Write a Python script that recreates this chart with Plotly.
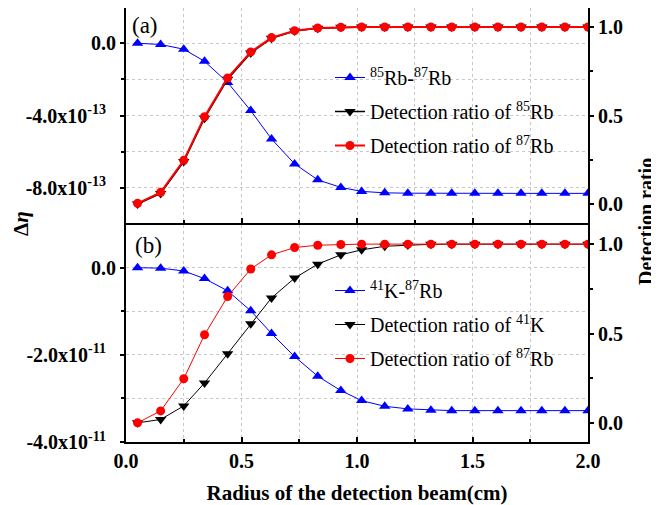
import plotly.graph_objects as go

# ---------------- data ----------------
radius = [0.05, 0.15, 0.25, 0.34, 0.44, 0.54, 0.63, 0.73, 0.83, 0.93, 1.02,
          1.12, 1.22, 1.32, 1.41, 1.51, 1.61, 1.71, 1.80, 1.90, 2.00]

# panel (a)
deta_85_87 = [0.0, -0.07e-13, -0.33e-13, -1.0e-13, -2.17e-13, -3.73e-13, -5.3e-13,
              -6.68e-13, -7.56e-13, -7.98e-13, -8.2e-13, -8.28e-13, -8.30e-13,
              -8.31e-13, -8.31e-13, -8.31e-13, -8.31e-13, -8.31e-13, -8.31e-13,
              -8.31e-13, -8.31e-13]
ratio_85 = [0.0, 0.06, 0.24, 0.485, 0.705, 0.853, 0.936, 0.977, 0.993, 0.998, 1.0,
            1.0, 1.0, 1.0, 1.0, 1.0, 1.0, 1.0, 1.0, 1.0, 1.0]
ratio_87a = [0.004, 0.066, 0.247, 0.493, 0.712, 0.859, 0.94, 0.979, 0.994, 0.998, 1.0,
             1.0, 1.0, 1.0, 1.0, 1.0, 1.0, 1.0, 1.0, 1.0, 1.0]

# panel (b)
deta_41_87 = [0.0, -0.01e-11, -0.075e-11, -0.25e-11, -0.53e-11, -0.99e-11, -1.51e-11,
              -2.04e-11, -2.49e-11, -2.82e-11, -3.05e-11, -3.18e-11, -3.24e-11,
              -3.27e-11, -3.28e-11, -3.28e-11, -3.28e-11, -3.28e-11, -3.28e-11,
              -3.28e-11, -3.28e-11]
ratio_41 = [0.0, 0.019, 0.095, 0.223, 0.387, 0.554, 0.699, 0.81, 0.888, 0.94, 0.968,
            0.988, 0.995, 0.999, 1.0, 1.0, 1.0, 1.0, 1.0, 1.0, 1.0]
ratio_87b = [0.0, 0.067, 0.247, 0.493, 0.707, 0.861, 0.94, 0.981, 0.994, 0.998, 1.0,
             1.0, 1.0, 1.0, 1.0, 1.0, 1.0, 1.0, 1.0, 1.0, 1.0]

x_ticks = [0.0, 0.5, 1.0, 1.5, 2.0]
x_ticktext = ["0.0", "0.5", "1.0", "1.5", "2.0"]
ya_ticks = [0.0, -4.0e-13, -8.0e-13]
ya_ticktext = ["0.0", "-4.0x10<sup>-13</sup>\u00a0\u00a0", "-8.0x10<sup>-13</sup>\u00a0\u00a0"]
yb_ticks = [0.0, -2.0e-11, -4.0e-11]
yb_ticktext = ["0.0", "-2.0x10<sup>-11</sup>\u00a0\u00a0", "-4.0x10<sup>-11</sup>\u00a0\u00a0"]
r_ticks = [0.0, 0.5, 1.0]
r_ticktext = ["0.0", "0.5", "1.0"]

FONT = "Liberation Serif, Times New Roman, Times, DejaVu Serif, serif"
BLUE, BLACK, RED = "#0000FF", "#000000", "#FF0000"

fig = go.Figure()

# panel (a) traces
fig.add_trace(go.Scatter(x=radius, y=deta_85_87, xaxis="x2", yaxis="y",
                         mode="lines+markers", name="<sup>85</sup>Rb-<sup>87</sup>Rb",
                         line=dict(color=BLUE, width=1),
                         marker=dict(symbol="triangle-up", size=10, color=BLUE),
                         legend="legend", legendgroup="a1"))
fig.add_trace(go.Scatter(x=radius, y=ratio_85, xaxis="x2", yaxis="y2",
                         mode="lines+markers", name="Detection ratio of <sup>85</sup>Rb",
                         line=dict(color=BLACK, width=1.5),
                         marker=dict(symbol="triangle-down", size=10, color=BLACK),
                         legend="legend", legendgroup="a2"))
fig.add_trace(go.Scatter(x=radius, y=ratio_87a, xaxis="x2", yaxis="y2",
                         mode="lines+markers", name="Detection ratio of <sup>87</sup>Rb",
                         line=dict(color=RED, width=2),
                         marker=dict(symbol="circle", size=9, color=RED),
                         legend="legend", legendgroup="a3"))

# panel (b) traces
fig.add_trace(go.Scatter(x=radius, y=deta_41_87, xaxis="x", yaxis="y3",
                         mode="lines+markers", name="<sup>41</sup>K-<sup>87</sup>Rb",
                         line=dict(color=BLUE, width=1),
                         marker=dict(symbol="triangle-up", size=10, color=BLUE),
                         legend="legend2", legendgroup="b1"))
fig.add_trace(go.Scatter(x=radius, y=ratio_41, xaxis="x", yaxis="y4",
                         mode="lines+markers", name="Detection ratio of <sup>41</sup>K",
                         line=dict(color=BLACK, width=1),
                         marker=dict(symbol="triangle-down", size=10, color=BLACK),
                         legend="legend2", legendgroup="b2"))
fig.add_trace(go.Scatter(x=radius, y=ratio_87b, xaxis="x", yaxis="y4",
                         mode="lines+markers", name="Detection ratio of <sup>87</sup>Rb",
                         line=dict(color=RED, width=1),
                         marker=dict(symbol="circle", size=9, color=RED),
                         legend="legend2", legendgroup="b3"))

tickfont = dict(family=FONT, size=20, color="black", weight="bold")
grid = dict(showgrid=True, gridcolor="#c8c8c8", griddash="dot", gridwidth=1)

xcommon = dict(range=[0, 2.0], tickmode="array", tickvals=x_ticks, ticktext=x_ticktext,
               ticks="inside", ticklen=5, tickwidth=1.5, tickcolor="black",
               showline=True, linecolor="black", linewidth=2, mirror=True,
               zeroline=False, tickfont=tickfont, automargin=False,
               minor=dict(tickmode="array", tickvals=[0.25, 0.75, 1.25, 1.75],
                          ticks="inside", ticklen=3, tickcolor="black",
                          showgrid=True, gridcolor="#c8c8c8", griddash="dot"),
               **grid)

ylcommon = dict(tickmode="array", ticks="outside", ticklen=4, tickwidth=1.5,
                tickcolor="black", showline=True, linecolor="black", linewidth=2,
                zeroline=False, tickfont=tickfont, ticklabelstandoff=0,
                automargin=False, **grid)
yrcommon = dict(tickmode="array", tickvals=r_ticks, ticktext=r_ticktext,
                ticks="outside", ticklen=4, tickwidth=1.5, tickcolor="black",
                showline=True, linecolor="black", linewidth=2, zeroline=False,
                showgrid=False, tickfont=tickfont, side="right", automargin=False,
                minor=dict(tickmode="array", tickvals=[0.25, 0.75], ticks="outside",
                           ticklen=3, tickcolor="black"))

# page body has an 8px margin; the layout compensates for it
OFF = 8
H_PLOT = 434.0
W_PLOT = 462.0
dom_top = [(442 - 223) / H_PLOT, 1.0]
dom_bot = [0.0, (442 - 225) / H_PLOT]


def px(xp):
    return (xp - 126) / W_PLOT


def py(yp):
    return (442 - yp) / H_PLOT


fig.update_layout(
    template="none",
    width=659 - OFF, height=505 - OFF,
    margin=dict(l=126 - OFF, r=71, t=8 - OFF, b=63, autoexpand=False),
    paper_bgcolor="white", plot_bgcolor="white",
    font=dict(family=FONT, color="black"),
    xaxis=dict(domain=[0, 1], anchor="y3",
               title=dict(text="<b>Radius of the detection beam(cm)</b>",
                          font=dict(family=FONT, size=21), standoff=20),
               **xcommon),
    xaxis2=dict(domain=[0, 1], anchor="y", matches="x", showticklabels=False, **xcommon),
    yaxis=dict(domain=dom_top, anchor="x2", range=[-9.95e-13, 1.95e-13],
               tickvals=ya_ticks, ticktext=ya_ticktext,
               minor=dict(tickmode="array", tickvals=[-2e-13, -6e-13], ticks="outside",
                          ticklen=3, tickcolor="black", showgrid=True,
                          gridcolor="#c8c8c8", griddash="dot"),
               **ylcommon),
    yaxis2=dict(overlaying="y", anchor="x2", range=[-0.107, 1.107], **yrcommon),
    yaxis3=dict(domain=dom_bot, anchor="x", range=[-4.0e-11, 0.98e-11],
                tickvals=yb_ticks, ticktext=yb_ticktext,
                minor=dict(tickmode="array", tickvals=[-1e-11, -3e-11], ticks="outside",
                           ticklen=3, tickcolor="black", showgrid=True,
                           gridcolor="#c8c8c8", griddash="dot"),
                **ylcommon),
    yaxis4=dict(overlaying="y3", anchor="x", range=[-0.107, 1.107], **yrcommon),
    legend=dict(x=px(330), xanchor="left", y=py(58), yanchor="top",
                bgcolor="rgba(0,0,0,0)", font=dict(family=FONT, size=20),
                tracegroupgap=5, traceorder="grouped"),
    legend2=dict(x=px(330), xanchor="left", y=py(271), yanchor="top",
                 bgcolor="rgba(0,0,0,0)", font=dict(family=FONT, size=20),
                 tracegroupgap=5, traceorder="grouped"),
    showlegend=True,
    annotations=[
        dict(text="(a)", x=px(130), y=py(25), xref="paper", yref="paper",
             xanchor="left", yanchor="middle", showarrow=False,
             font=dict(family=FONT, size=23)),
        dict(text="(b)", x=px(133), y=py(246), xref="paper", yref="paper",
             xanchor="left", yanchor="middle", showarrow=False,
             font=dict(family=FONT, size=23)),
        dict(text="<b>Δ</b><b><i>η</i></b>", x=px(21), y=py(224),
             xref="paper", yref="paper", textangle=-90, showarrow=False,
             xanchor="center", yanchor="middle", font=dict(family=FONT, size=21)),
        dict(text="<b>Detection ratio</b>", x=px(646), y=py(222),
             xref="paper", yref="paper", textangle=-90, showarrow=False,
             xanchor="center", yanchor="middle", font=dict(family=FONT, size=20)),
    ],
)

fig.write_html("out.html")
